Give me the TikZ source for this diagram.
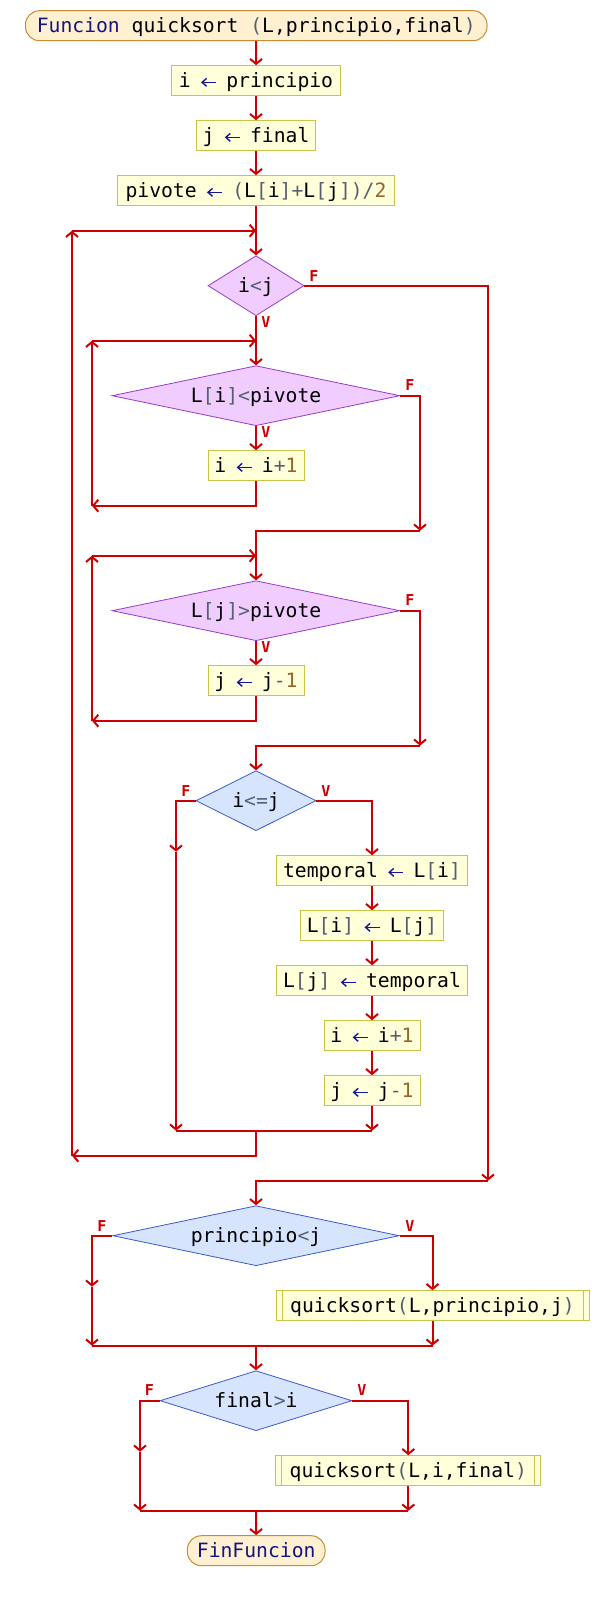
\documentclass[tikz,border=0pt]{standalone}
\usepackage{fontspec}
\setmonofont{DejaVu Sans Mono}
\usetikzlibrary{arrows.meta,shapes.geometric}
\definecolor{linec}{RGB}{204,0,0}
\definecolor{boxbg}{RGB}{255,255,218}
\definecolor{boxbd}{RGB}{200,196,70}
\definecolor{whbg}{RGB}{240,204,255}
\definecolor{whbd}{RGB}{150,60,200}
\definecolor{ifbg}{RGB}{214,228,254}
\definecolor{ifbd}{RGB}{60,90,200}
\definecolor{stbg}{RGB}{255,240,210}
\definecolor{stbd}{RGB}{200,140,50}
\definecolor{kwc}{RGB}{20,20,130}
\definecolor{opc}{RGB}{85,95,112}
\definecolor{numc}{RGB}{150,100,40}
\definecolor{asgc}{RGB}{20,20,160}
\newsavebox\asgbox
\sbox\asgbox{\tikz[baseline=0pt]{\path[use as bounding box] (0pt,0pt) rectangle (15pt,8pt);
  \draw[asgc, line width=1.4pt, {Straight Barb[length=4.5pt,width=8pt]}-] (0pt,5.5pt) -- (15pt,5.5pt);}}
\newcommand{\kw}[1]{\textcolor{kwc}{#1}}
\newcommand{\op}[1]{\textcolor{opc}{#1}}
\newcommand{\nm}[1]{\textcolor{numc}{#1}}
\newcommand{\asg}{\makebox[0.602em]{\usebox\asgbox}}
\begin{document}
\begin{tikzpicture}[x=1pt,y=-1pt,
  base/.style={font=\ttfamily\fontsize{19.7pt}{22pt}\selectfont, text height=14.3pt, text depth=0pt, inner xsep=0pt, inner ysep=0pt},
  proc/.style={base, draw=boxbd, fill=boxbg, line width=1pt, minimum height=30pt},
  callbox/.style={proc, path picture={
     \draw[boxbd, line width=1pt] ([xshift=6pt]path picture bounding box.north west) -- ([xshift=6pt]path picture bounding box.south west);
     \draw[boxbd, line width=1pt] ([xshift=-6pt]path picture bounding box.north east) -- ([xshift=-6pt]path picture bounding box.south east);}},
  whilebox/.style={base, shape=diamond, draw=whbd, fill=whbg, line width=0.8pt, minimum height=60pt},
  ifbox/.style={base, shape=diamond, draw=ifbd, fill=ifbg, line width=0.8pt, minimum height=60pt},
  term/.style={base, draw=stbd, fill=stbg, line width=1pt, rounded corners=14pt, minimum height=30pt},
  conn/.style={draw=linec, line width=2pt},
  arr/.style={conn, -{Straight Barb[length=5pt,width=12pt]}},
  lbl/.style={font=\ttfamily\bfseries\fontsize{15pt}{16pt}\selectfont, text=linec, inner sep=0pt, text height=10.8pt, text depth=0pt}
]
\useasboundingbox (0,0) rectangle (598,1600);

% nodes
\node[term, minimum width=461.5pt] (start) at (256.25,25.7) {\kw{Funcion} quicksort \op{(}L,principio,final\op{)}};
\node[proc, minimum width=168.4pt] (a1) at (256,80.7) {i \asg{} principio};
\node[proc, minimum width=119.5pt] (a2) at (256,135.7) {j \asg{} final};
\node[proc, minimum width=277pt] (a3) at (256,190.7) {pivote \asg{} \op{(}L\op{[}i\op{]}\op{+}L\op{[}j\op{]}\op{)}\op{/}\nm{2}};
\node[whilebox, minimum width=96pt, aspect=1.6] (d1) at (256,285.7) {i\op{<}j};
\node[whilebox, minimum width=288pt, aspect=4.8] (d2) at (256,395.7) {L\op{[}i\op{]}\op{<}pivote};
\node[proc, minimum width=96pt] (a4) at (256,465.7) {i \asg{} i\op{+}\nm{1}};
\node[whilebox, minimum width=288pt, aspect=4.8] (d3) at (256,610.7) {L\op{[}j\op{]}\op{>}pivote};
\node[proc, minimum width=96pt] (a5) at (256,680.7) {j \asg{} j\op{-}\nm{1}};
\node[ifbox, minimum width=120pt, aspect=2] (d4) at (256,800.7) {i\op{<=}j};
\node[proc, minimum width=191.6pt] (b1) at (372,870.7) {temporal \asg{} L\op{[}i\op{]}};
\node[proc, minimum width=143.6pt] (b2) at (372,925.7) {L\op{[}i\op{]} \asg{} L\op{[}j\op{]}};
\node[proc, minimum width=191.6pt] (b3) at (372,980.7) {L\op{[}j\op{]} \asg{} temporal};
\node[proc, minimum width=96pt] (b4) at (372,1035.7) {i \asg{} i\op{+}\nm{1}};
\node[proc, minimum width=96pt] (b5) at (372,1090.7) {j \asg{} j\op{-}\nm{1}};
\node[ifbox, minimum width=286.5pt, aspect=4.775] (d5) at (256,1235.7) {principio\op{<}j};
\node[callbox, minimum width=313pt] (p1) at (432.5,1305.7) {quicksort\op{(}L,principio,j\op{)}};
\node[ifbox, minimum width=192pt, aspect=3.2] (d6) at (256,1400.7) {final\op{>}i};
\node[callbox, minimum width=264.7pt] (p2) at (408.3,1470.7) {quicksort\op{(}L,i,final\op{)}};
\node[term, minimum width=137.7pt] (fin) at (256.2,1550.7) {\kw{FinFuncion}};

% labels
\node[lbl] (l1f) at (314,276) {F};
\node[lbl] (l1v) at (266,322.5) {V};
\node[lbl] (l2f) at (410,385.5) {F};
\node[lbl] (l2v) at (266,432) {V};
\node[lbl] (l3f) at (410,600.5) {F};
\node[lbl] (l3v) at (266,647) {V};
\node[lbl] (l4f) at (186,791) {F};
\node[lbl] (l4v) at (326,791) {V};
\node[lbl] (l5f) at (102,1226) {F};
\node[lbl] (l5v) at (410,1226) {V};
\node[lbl] (l6f) at (149.5,1390.5) {F};
\node[lbl] (l6v) at (362,1390.5) {V};

% coordinates
\coordinate (o1) at (72,1155.7);
\coordinate (o2) at (72,230.7);
\coordinate (o3) at (256,230.7);
\coordinate (l1a) at (92,505.7);
\coordinate (l1b) at (92,340.7);
\coordinate (l1c) at (256,340.7);
\coordinate (f2) at (420,530.7);
\coordinate (l2a) at (92,720.7);
\coordinate (l2b) at (92,555.7);
\coordinate (l2c) at (256,555.7);
\coordinate (f3) at (420,745.7);
\coordinate (fl4) at (176,851.7);
\coordinate (fb4) at (176,1130.7);
\coordinate (vb4) at (372,1130.7);
\coordinate (j4) at (256,1130.7);
\coordinate (f1) at (488,1180.7);
\coordinate (fl5) at (92,1286.7);
\coordinate (fb5) at (92,1345.7);
\coordinate (vb5) at (432.5,1345.7);
\coordinate (j5) at (256,1345.7);
\coordinate (fl6) at (140,1451.7);
\coordinate (fb6) at (140,1510.7);
\coordinate (vb6) at (408.3,1510.7);
\coordinate (j6) at (256,1510.7);

% connectors
\draw[arr] (start) -- (a1);
\draw[arr] (a1) -- (a2);
\draw[arr] (a2) -- (a3);
\draw[arr] (a3) -- (d1);
\draw[arr] (d1) -- (d2);
\draw[arr] (d2) -- (a4);
\draw[arr] (a4.south) |- (l1a);
\draw[arr] (l1a) -- (l1b);
\draw[arr] (l1b) -- (l1c);
\draw[arr] (d2.east) -| (f2);
\draw[arr] (f2) -| (d3.north);
\draw[arr] (d3) -- (a5);
\draw[arr] (a5.south) |- (l2a);
\draw[arr] (l2a) -- (l2b);
\draw[arr] (l2b) -- (l2c);
\draw[arr] (d3.east) -| (f3);
\draw[arr] (f3) -| (d4.north);
\draw[arr] (d4.west) -| (fl4);
\draw[arr] (fl4) -- (fb4);
\draw[arr] (d4.east) -| (b1.north);
\draw[arr] (b1) -- (b2);
\draw[arr] (b2) -- (b3);
\draw[arr] (b3) -- (b4);
\draw[arr] (b4) -- (b5);
\draw[arr] (b5) -- (vb4);
\draw[conn] (fb4) -- (vb4);
\draw[arr] (j4) |- (o1);
\draw[arr] (o1) -- (o2);
\draw[arr] (o2) -- (o3);
\draw[arr] (d1.east) -| (f1);
\draw[arr] (f1) -| (d5.north);
\draw[arr] (d5.west) -| (fl5);
\draw[arr] (fl5) -- (fb5);
\draw[arr] (d5.east) -| (p1.north);
\draw[arr] (p1) -- (vb5);
\draw[conn] (fb5) -- (vb5);
\draw[arr] (j5) -- (d6);
\draw[arr] (d6.west) -| (fl6);
\draw[arr] (fl6) -- (fb6);
\draw[arr] (d6.east) -| (p2.north);
\draw[arr] (p2) -- (vb6);
\draw[conn] (fb6) -- (vb6);
\draw[arr] (j6) -- (fin);
\end{tikzpicture}
\end{document}
